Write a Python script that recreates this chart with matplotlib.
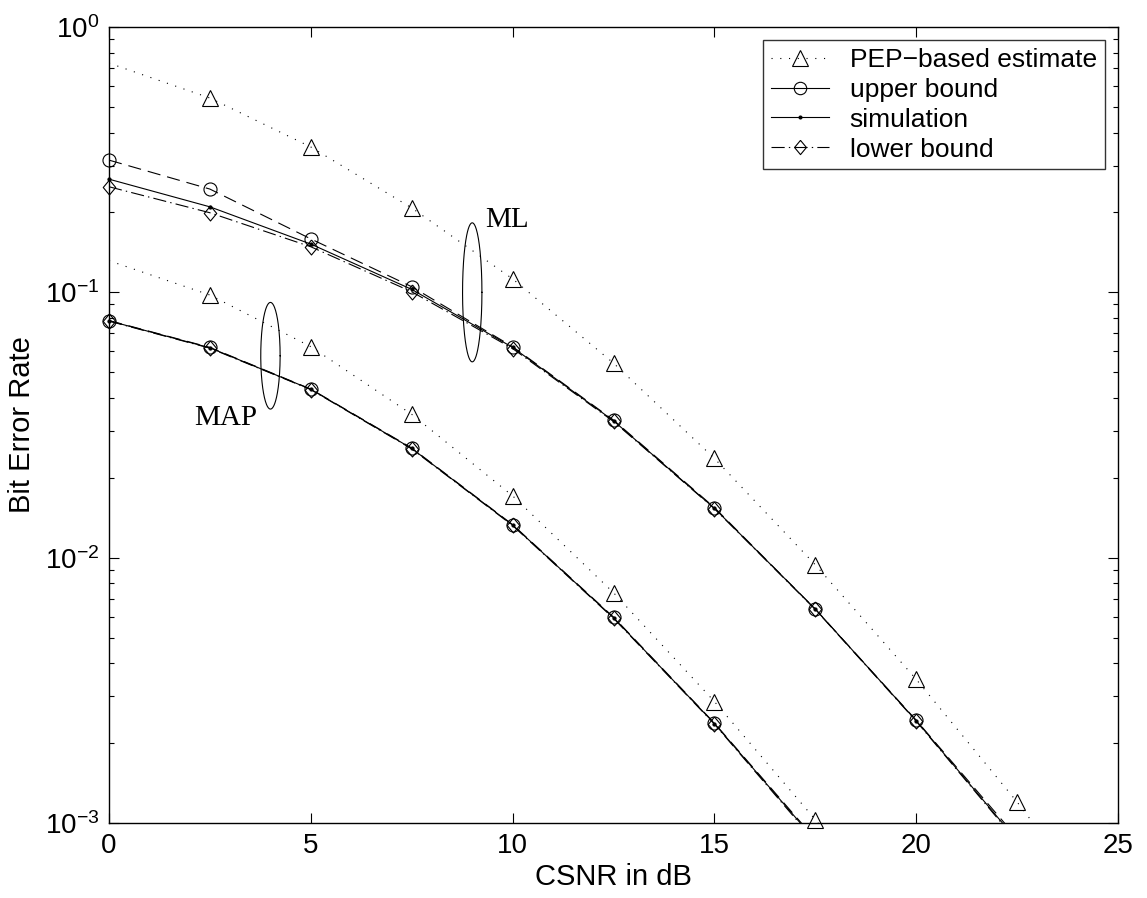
import numpy as np
import matplotlib
matplotlib.use("Agg")
import matplotlib.pyplot as plt
from matplotlib.lines import Line2D

plt.rcParams['font.family'] = ['Liberation Sans', 'DejaVu Sans']
plt.rcParams['mathtext.fontset'] = 'custom'
plt.rcParams['mathtext.rm'] = 'Liberation Sans'
plt.rcParams['mathtext.it'] = 'Liberation Sans:italic'
plt.rcParams['lines.scale_dashes'] = False

# ---------------- data ----------------
csnr = [0, 2.5, 5, 7.5, 10, 12.5, 15, 17.5, 20, 22.5, 25]

ml_pep   = [0.731, 0.54, 0.353, 0.208, 0.1124, 0.0541, 0.02367, 0.0094, 0.00348, 0.00120, 0.00038]
ml_upper = [0.315, 0.245, 0.159, 0.105, 0.0624, 0.0330, 0.01545, 0.0064, 0.00244, 0.00088, 0.00028]
ml_sim   = [0.267, 0.210, 0.152, 0.1026, 0.0620, 0.0328, 0.01535, 0.0064, 0.00243, 0.00086, 0.00027]
ml_lower = [0.250, 0.1995, 0.1485, 0.1005, 0.0614, 0.0326, 0.0153, 0.00638, 0.00242, 0.00085, 0.00027]

map_pep   = [0.1316, 0.0977, 0.0624, 0.0347, 0.0171, 0.00738, 0.00287, 0.00103, 0.00035, 0.00010, 0.00003]
map_upper = [0.0783, 0.0620, 0.0432, 0.0259, 0.01332, 0.00597, 0.00238, 0.00087, 0.00028, 0.00008, 0.00002]
map_sim   = [0.0781, 0.0618, 0.0431, 0.0258, 0.01327, 0.00594, 0.00237, 0.00086, 0.00028, 0.00008, 0.00002]
map_lower = [0.0779, 0.0616, 0.0430, 0.0257, 0.01322, 0.00591, 0.00236, 0.00085, 0.00027, 0.00008, 0.00002]

legend_labels = ['PEP\u2212based estimate', 'upper bound', 'simulation', 'lower bound']
xtick_vals = [0, 5, 10, 15, 20, 25]

# ---------------- styles ----------------
LW = 0.8
diamond = [(0, 1.2), (1, 0), (0, -1.2), (-1, 0), (0, 1.2)]
styles = {
    'pep':   dict(ls=(0, (0.8, 5.5)), marker='^', ms=12),
    'upper': dict(ls=(0, (9.5, 5.0)), marker='o', ms=9.4),
    'sim':   dict(ls='-', marker='.', ms=4.5),
    'lower': dict(ls=(0, (9.5, 3.0, 1.0, 3.0)), marker=diamond, ms=10.8),
}

fig = plt.figure(figsize=(11.47, 8.98), dpi=100)
ax = fig.add_axes([109/1147, 75/898, (1118-109)/1147, (823-27)/898])
ax.set_yscale('log')
ax.set_xlim(0, 25)
ax.set_ylim(1e-3, 1)

x = np.array(csnr)
series = [('pep', ml_pep, True), ('upper', ml_upper, False), ('sim', ml_sim, False), ('lower', ml_lower, False),
          ('pep', map_pep, True), ('upper', map_upper, False), ('sim', map_sim, False), ('lower', map_lower, False)]

for key, vals, skip_first in series:
    st = styles[key]
    y = np.array(vals)
    ax.plot(x, y, color='k', lw=LW, linestyle=st['ls'], zorder=2)
    mask = y >= 1e-3
    if skip_first:
        mask[0] = False
    mfc = 'k' if key == 'sim' else 'none'
    ax.plot(x[mask], y[mask], linestyle='none', marker=st['marker'], ms=st['ms'],
            mfc=mfc, mec='k', mew=LW, clip_on=False, zorder=3)

# ellipses (annotation)
t = np.linspace(0, 2*np.pi, 200)
ax.plot(9.0 + 0.24*np.cos(t), 10**(-1.0 + 0.262*np.sin(t)), color='k', lw=LW)
ax.plot(4.0 + 0.24*np.cos(t), 10**(-1.239 + 0.201*np.sin(t)), color='k', lw=LW)
ax.text(9.85, 0.187, 'ML', family=['Liberation Serif'], fontsize=21, ha='center', va='center')
ax.text(2.89, 0.0337, 'MAP', family=['Liberation Serif'], fontsize=21, ha='center', va='center')

# axes styling
ax.set_xticks(xtick_vals)
ax.set_xticklabels([str(v) for v in xtick_vals])
ax.tick_params(which='both', direction='in', top=True, right=True, labelsize=20, width=0.8)
ax.tick_params(which='major', length=7, pad=7)
ax.tick_params(which='minor', length=3.6)
for s in ax.spines.values():
    s.set_linewidth(1.0)
ax.set_xlabel('CSNR in dB', fontsize=21, labelpad=3)
ax.set_ylabel('Bit Error Rate', fontsize=21, labelpad=6)

handles = []
for key in ['pep', 'upper', 'sim', 'lower']:
    st = styles[key]
    mfc = 'k' if key == 'sim' else 'none'
    lsl = st['ls'] if key in ('pep', 'lower') else '-'
    handles.append(Line2D([], [], color='k', lw=LW, linestyle=lsl, marker=st['marker'],
                          ms=st['ms']*0.95, mfc=mfc, mec='k', mew=LW))
leg = ax.legend(handles, legend_labels, loc='upper right', fontsize=19, frameon=True,
                fancybox=False, edgecolor='k', borderaxespad=0.5, handlelength=2.2,
                labelspacing=0.22, borderpad=0.3, handletextpad=0.8)
leg.get_frame().set_linewidth(1.0)

fig.savefig('out.png', dpi=100)
